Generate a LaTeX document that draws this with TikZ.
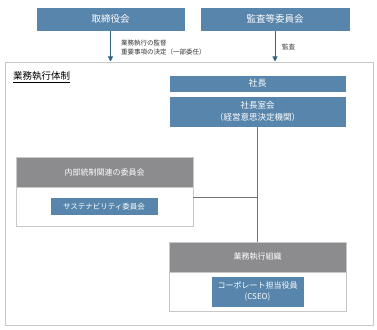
\documentclass[tikz,border=0pt]{standalone}
\usepackage{fontspec}
\setmainfont{Noto Sans CJK JP}
\definecolor{boxblue}{RGB}{88,133,172}
\definecolor{headgray}{RGB}{140,140,143}
\definecolor{framegray}{RGB}{200,200,200}
\definecolor{linegray}{RGB}{115,115,115}
\definecolor{arrowblue}{RGB}{50,100,130}
\usepackage{tikz}
\usetikzlibrary{arrows.meta, positioning, calc}

\begin{document}
\begin{tikzpicture}[x=1pt, y=-1pt,
	bluebox/.style={fill=boxblue, draw=white, line width=0.6pt, text=white, inner sep=0pt, align=center, font=\fontsize{8.5}{12}\selectfont},
	headbox/.style={fill=headgray, draw=framegray, line width=0.6pt, text=white, inner sep=0pt, minimum width=177pt, minimum height=30pt, font=\fontsize{8}{10}\selectfont},
	bodybox/.style={fill=white, draw=framegray, line width=0.8pt, inner sep=0pt, minimum width=177pt, minimum height=39pt},
	link/.style={draw=linegray, line width=0.7pt},
	down/.style={draw=arrowblue, line width=0.7pt, -{Triangle[width=5pt,length=5pt]}},
	note/.style={anchor=west, align=left, inner sep=0pt, text=black!80, font=\fontsize{6.5}{9.5}\selectfont}]
	\useasboundingbox (0,0) rectangle (377,329);
	% marco
	\node[draw=framegray, line width=1pt, minimum width=368pt, minimum height=263pt, inner sep=0pt] (frame) at (189,193.5) {};
	\node[anchor=west, inner sep=0pt, font=\fontsize{9.5}{11}\selectfont] (title) at (13,77) {\underline{業務執行体制}};
	% organos de arriba
	\node[bluebox, minimum width=149pt, minimum height=24pt, font=\fontsize{9.5}{12}\selectfont] (tori) at (110.5,19) {取締役会};
	\node[bluebox, minimum width=150pt, minimum height=24pt, font=\fontsize{9.5}{12}\selectfont] (kansa) at (275,19) {監査等委員会};
	% flechas hacia el marco
	\draw[down] (tori.south) -- (tori.south |- frame.north);
	\draw[down] (kansa.south) -- (kansa.south |- frame.north);
	\node[note] (lab1) at (121,47.5) {業務執行の監督\\重要事項の決定（一部委任）};
	\node[note] (lab2) at (282,47) {監査};
	% presidente
	\node[bluebox, minimum width=177pt, minimum height=17pt, font=\fontsize{9}{12}\selectfont] (shacho) at (257.5,83.5) {社長};
	\node[bluebox, minimum width=177pt, minimum height=31pt] (shitsu) at (257.5,111.5) {社長室会\\（経営意思決定機関）};
	% comites
	\node[bodybox] (naibuB) at (104.5,206.5) {};
	\node[headbox] (naibuH) at (104.5,172) {内部統制関連の委員会};
	\node[bluebox, minimum width=108pt, minimum height=18pt, font=\fontsize{7.5}{9}\selectfont] (sust) at (104,206.5) {サステナビリティ委員会};
	% organizacion
	\node[bodybox] (gyomuB) at (257.5,291.5) {};
	\node[headbox] (gyomuH) at (257.5,257) {業務執行組織};
	\node[bluebox, minimum width=93pt, minimum height=31pt, font=\fontsize{8}{11}\selectfont] (cseo) at (257.5,291.5) {コーポレート担当役員\\(CSEO)};
	% lineas
	\coordinate (j) at (shitsu.south |- 0,197);
	\draw[link] (shitsu.south) -- (gyomuH.north);
	\draw[link] (naibuB.east |- j) -- (j);
\end{tikzpicture}
\end{document}
